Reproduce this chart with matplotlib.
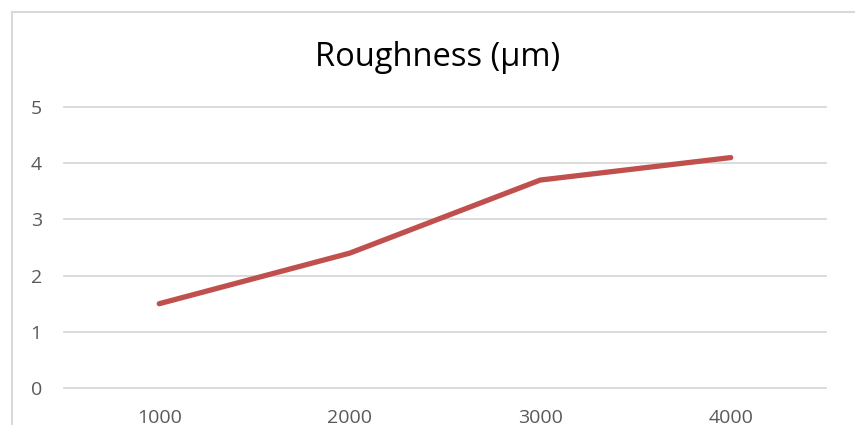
import matplotlib
matplotlib.use("Agg")
import matplotlib.pyplot as plt
from matplotlib.lines import Line2D

# roughness vs. speed
categories = ["1000", "2000", "3000", "4000"]
roughness = [1.5, 2.4, 3.7, 4.1]
y_ticks = [0, 1, 2, 3, 4, 5]

W, H = 855, 425
fig = plt.figure(figsize=(W / 100, H / 100), dpi=100)
plt.rcParams['font.family'] = ['Open Sans', 'DejaVu Sans']

# chart area frame (only left and top edges visible)
fig.add_artist(Line2D([11.5 / W, 11.5 / W], [0, 1 - 11.5 / H],
                      transform=fig.transFigure, color="#D9D9D9", lw=1.5))
fig.add_artist(Line2D([11.5 / W, 1], [1 - 11.5 / H, 1 - 11.5 / H],
                      transform=fig.transFigure, color="#D9D9D9", lw=1.5))

left, right = 64 / W, 826 / W
bottom, top = (H - 388) / H, (H - 107) / H
ax = fig.add_axes([left, bottom, right - left, top - bottom])

x = list(range(len(categories)))
ax.plot(x, roughness, color="#C0504D", lw=3.8, solid_capstyle="round",
        solid_joinstyle="round", zorder=3)

ax.set_xlim(-0.5, len(categories) - 0.5)
ax.set_ylim(0, 5)
ax.set_yticks(y_ticks)
ax.set_xticks(x)
ax.set_xticklabels(categories)

for yv in y_ticks:
    ax.axhline(yv, color="#D9D9D9", lw=1.3, zorder=1, clip_on=False)

for s in ax.spines.values():
    s.set_visible(False)
ax.tick_params(axis="both", length=0, colors="#595959", labelsize=14)
ax.tick_params(axis="y", pad=16)
ax.tick_params(axis="x", pad=15)

fig.text(438 / W, 1 - 58 / H, "Roughness (µm)", ha="center", va="center",
         fontsize=23.5, color="#000000")

fig.savefig("out.png", dpi=100)
